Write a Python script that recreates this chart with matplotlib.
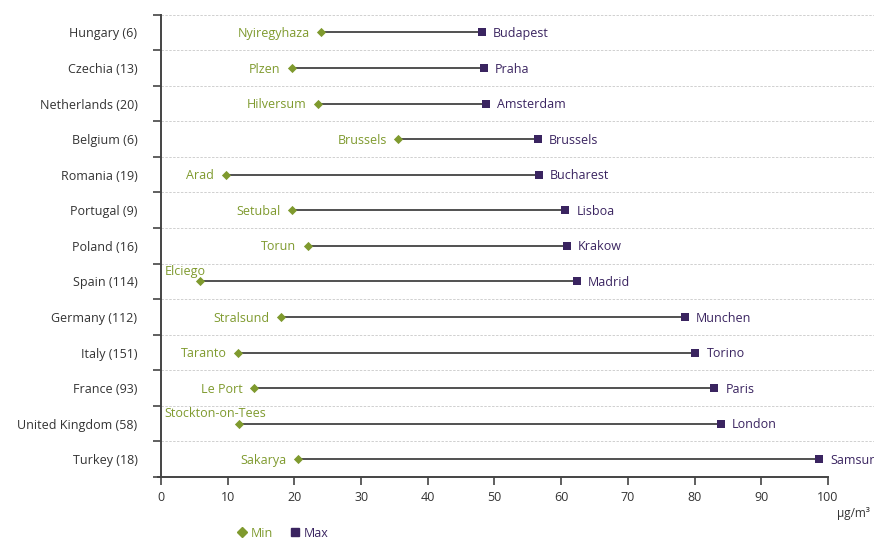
import matplotlib.pyplot as plt
from matplotlib.lines import Line2D

plt.rcParams['font.family'] = ['Open Sans', 'DejaVu Sans']

countries = ['Hungary (6)', 'Czechia (13)', 'Netherlands (20)', 'Belgium (6)',
             'Romania (19)', 'Portugal (9)', 'Poland (16)', 'Spain (114)',
             'Germany (112)', 'Italy (151)', 'France (93)',
             'United Kingdom (58)', 'Turkey (18)']
min_cities = ['Nyiregyhaza', 'Plzen', 'Hilversum', 'Brussels', 'Arad',
              'Setubal', 'Torun', 'Elciego', 'Stralsund', 'Taranto',
              'Le Port', 'Stockton-on-Tees', 'Sakarya']
max_cities = ['Budapest', 'Praha', 'Amsterdam', 'Brussels', 'Bucharest',
              'Lisboa', 'Krakow', 'Madrid', 'Munchen', 'Torino', 'Paris',
              'London', 'Samsun']
min_values = [24.0, 19.6, 23.5, 35.6, 9.7, 19.7, 22.0, 5.9, 18.0, 11.5,
              14.0, 11.7, 20.5]
max_values = [48.1, 48.4, 48.7, 56.5, 56.6, 60.6, 60.8, 62.3, 78.5, 80.1,
              82.9, 83.9, 98.7]
# labels drawn above the marker instead of to its left
above_labels = ['Elciego', 'Stockton-on-Tees']

green = '#7f9a2e'
purple = '#3a2460'
axis_grey = '#444444'
text_grey = '#333333'
fs = 9

fig = plt.figure(figsize=(8.74, 5.38), dpi=100)
ax = fig.add_axes([0.1842, 0.1134, 0.8158, 0.8593])

n = len(countries)
ys = list(range(n))

for y, lo, hi in zip(ys, min_values, max_values):
    ax.plot([lo, hi], [y, y], color='#222222', lw=1.1, zorder=2)
ax.scatter(min_values, ys, marker='D', s=22, color=green, zorder=3,
           linewidths=0)
ax.scatter(max_values, ys, marker='s', s=30, color=purple, zorder=3,
           linewidths=0)

for y, lo, hi, cmin, cmax in zip(ys, min_values, max_values,
                                 min_cities, max_cities):
    if cmin in above_labels:
        ax.text(0.5, y - 0.28, cmin, color=green, fontsize=fs,
                ha='left', va='center')
    else:
        ax.text(lo - 1.7, y + 0.03, cmin, color=green, fontsize=fs,
                ha='right', va='center')
    # the rightmost label runs off the edge, as in the original
    ax.text(hi + 1.7, y + 0.03, cmax, color=purple, fontsize=fs,
            ha='left', va='center', clip_on=True)

ax.set_xlim(0, 106.9)
ax.set_ylim(n - 0.5, -0.5)
ax.set_xticks(range(0, 101, 10))
ax.set_yticks(ys)
ax.set_yticklabels(countries, fontsize=fs, color=text_grey)
ax.set_yticks([i - 0.5 for i in range(n + 1)], minor=True)
ax.tick_params(axis='y', which='major', length=0, pad=17)
ax.tick_params(axis='y', which='minor', length=6, width=1.2,
               color=axis_grey, direction='out')
ax.tick_params(axis='x', length=6, width=1.2, color=axis_grey,
               labelsize=fs, labelcolor=text_grey, pad=4)

ax.grid(axis='y', which='minor', color='#d0d0d0', ls=(0, (2.5, 1.5)), lw=0.7)
ax.set_axisbelow(True)

for side in ['top', 'right']:
    ax.spines[side].set_visible(False)
ax.spines['left'].set_color(axis_grey)
ax.spines['left'].set_linewidth(1.4)
ax.spines['bottom'].set_color(axis_grey)
ax.spines['bottom'].set_linewidth(1.4)
ax.spines['bottom'].set_bounds(-0.5, 100)

fig.text(0.958, 0.046, 'µg/m³', fontsize=8.5, color=text_grey,
         ha='left', va='center')

handles = [Line2D([], [], marker='D', color=green, ls='none', markersize=5),
           Line2D([], [], marker='s', color=purple, ls='none', markersize=5.5)]
leg = fig.legend(handles, ['Min', 'Max'], loc='center left',
                 bbox_to_anchor=(0.265, 0.009), ncol=2, frameon=False,
                 fontsize=fs, handlelength=0.6, handletextpad=0.4,
                 columnspacing=1.5, borderpad=0)
leg.get_texts()[0].set_color(green)
leg.get_texts()[1].set_color(purple)

fig.savefig('out.png', dpi=100)
